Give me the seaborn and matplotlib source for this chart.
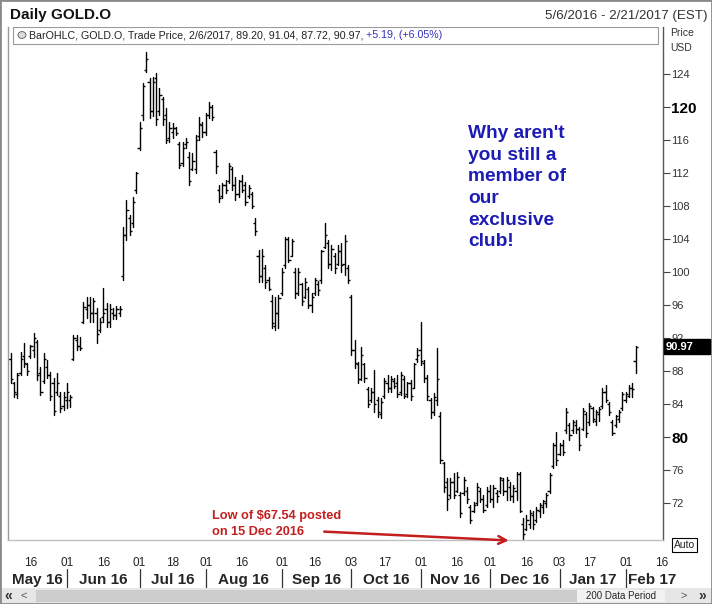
import pandas as pd
import seaborn as sns
import matplotlib.pyplot as plt
from matplotlib import font_manager
from matplotlib.patches import Rectangle
from matplotlib.transforms import blended_transform_factory

# daily bars, GOLD.O, 6 May 2016 .. 6 Feb 2017 (trading-day index 0..189)
highs = [90.2, 86.7, 87.8, 90.3, 91.4, 89.0, 91.2, 92.6, 91.8, 88.5,
         90.2, 89.3, 87.9, 87.1, 87.8, 85.5, 85.5, 86.5, 85.1, 92.4,
         92.4, 92.1, 96.4, 97.0, 97.0, 96.9, 95.6, 94.4, 98.1, 96.2,
         96.1, 95.7, 95.9, 95.9, 105.5, 108.7, 106.9, 109.1, 112.1, 118.2,
         122.9, 126.7, 123.5, 123.6, 124.1, 122.3, 121.2, 119.9, 118.2, 118.1,
         117.6, 115.8, 115.8, 116.2, 114.5, 114.4, 116.6, 118.8, 118.2, 119.3,
         120.6, 120.2, 114.8, 110.5, 110.8, 111.2, 113.2, 112.7, 111.5, 111.2,
         111.8, 110.9, 110.5, 109.7, 106.5, 102.7, 102.8, 100.8, 99.4, 97.2,
         97.0, 97.2, 100.5, 104.2, 104.2, 104.0, 100.5, 100.5, 98.7, 99.3,
         98.2, 97.5, 99.3, 98.9, 102.7, 105.9, 103.9, 103.3, 102.3, 103.3,
         103.5, 104.5, 100.8, 97.2, 91.8, 89.1, 90.9, 89.0, 86.1, 85.9,
         88.1, 84.8, 84.7, 87.2, 87.5, 87.4, 87.2, 87.5, 87.9, 87.4,
         86.7, 86.9, 89.0, 90.8, 93.9, 89.3, 87.5, 84.7, 85.3, 90.8,
         83.0, 77.0, 75.0, 75.0, 75.6, 75.8, 73.3, 75.2, 73.9, 71.8,
         72.1, 74.4, 73.8, 73.0, 73.9, 74.2, 74.2, 73.6, 75.2, 75.0,
         75.2, 74.5, 74.2, 75.8, 75.8, 70.2, 70.5, 71.2, 71.0, 71.5,
         72.0, 72.4, 73.2, 75.6, 79.3, 80.6, 79.3, 79.6, 83.5, 81.7,
         82.1, 82.1, 81.2, 83.5, 83.0, 84.1, 83.6, 83.3, 83.6, 85.9,
         86.3, 84.2, 82.1, 82.7, 83.3, 85.5, 85.5, 86.3, 86.5, 91.04]
lows = [86.5, 84.8, 84.7, 87.5, 88.5, 87.5, 89.6, 89.7, 86.9, 85.1,
        86.5, 87.1, 84.5, 82.7, 85.1, 83.0, 83.3, 83.5, 83.6, 89.3,
        90.5, 90.5, 93.8, 94.4, 94.0, 93.9, 91.4, 92.7, 93.9, 93.3,
        93.3, 94.3, 94.3, 94.7, 99.0, 103.9, 104.5, 105.5, 109.6, 114.8,
        118.4, 124.2, 118.7, 118.9, 117.8, 119.0, 117.8, 115.6, 115.8, 116.2,
        116.6, 112.6, 112.8, 115.0, 110.5, 112.4, 112.0, 116.0, 116.4, 116.6,
        118.7, 118.4, 112.0, 108.5, 109.0, 109.6, 110.8, 109.9, 108.7, 109.1,
        109.7, 108.1, 109.0, 107.8, 104.5, 98.8, 98.8, 98.1, 97.8, 93.2,
        93.0, 93.2, 97.2, 100.5, 101.2, 101.9, 96.8, 97.2, 96.0, 96.8,
        95.6, 95.2, 97.2, 97.2, 98.7, 102.9, 100.5, 100.2, 99.9, 100.8,
        100.0, 99.6, 98.7, 89.9, 88.4, 86.5, 86.9, 86.7, 83.6, 84.2,
        83.0, 82.4, 82.3, 84.7, 85.5, 85.5, 85.9, 84.8, 85.1, 84.7,
        84.8, 84.5, 85.9, 89.1, 88.7, 86.7, 84.5, 82.3, 82.7, 83.9,
        76.8, 73.3, 71.2, 72.6, 72.6, 73.3, 70.3, 73.0, 72.0, 69.6,
        70.9, 71.8, 72.1, 70.9, 71.5, 72.1, 71.5, 72.1, 73.2, 73.0,
        72.4, 72.4, 72.1, 72.4, 70.9, 67.54, 68.7, 69.0, 68.8, 69.7,
        70.3, 70.8, 71.5, 73.2, 76.2, 76.6, 77.8, 77.8, 80.5, 79.6,
        80.5, 80.5, 78.4, 80.8, 80.0, 81.5, 81.8, 81.5, 82.0, 83.5,
        84.2, 82.7, 80.2, 81.2, 81.8, 83.3, 84.2, 84.8, 84.8, 87.72]
opens = [89.5, 86.5, 85.2, 87.8, 89.8, 88.8, 89.8, 90.5, 91.5, 87.8,
         86.8, 88.5, 87.5, 86.5, 85.5, 85.0, 83.8, 84.5, 84.5, 89.5,
         91.8, 91.0, 94.0, 95.5, 96.0, 95.0, 95.0, 93.0, 94.5, 95.5,
         94.0, 95.0, 94.8, 95.0, 99.5, 104.5, 106.5, 106.0, 110.0, 115.0,
         119.0, 124.5, 123.0, 119.5, 123.5, 119.5, 121.0, 119.0, 116.2, 117.0,
         117.4, 115.5, 113.2, 115.5, 114.0, 112.5, 112.5, 116.5, 117.8, 117.0,
         119.0, 120.0, 114.5, 110.0, 109.2, 110.5, 111.0, 112.5, 110.5, 109.5,
         111.0, 110.5, 109.2, 109.5, 106.0, 102.0, 99.5, 100.5, 99.0, 96.5,
         93.5, 95.0, 97.5, 100.8, 104.0, 102.0, 100.0, 97.5, 98.5, 97.0,
         98.0, 96.0, 97.5, 98.5, 99.0, 103.0, 103.5, 101.0, 102.0, 101.0,
         102.5, 101.0, 100.5, 97.0, 90.5, 88.8, 87.0, 88.8, 85.8, 84.5,
         85.5, 84.5, 82.8, 85.0, 86.5, 86.0, 86.8, 86.5, 85.5, 87.0,
         85.2, 86.5, 86.0, 89.5, 90.5, 89.0, 87.2, 84.5, 83.0, 84.5,
         82.5, 76.8, 74.5, 73.0, 74.5, 73.5, 73.0, 73.2, 73.5, 71.5,
         71.0, 72.0, 73.5, 72.5, 71.8, 73.5, 72.5, 73.2, 73.5, 74.8,
         73.5, 74.0, 72.8, 73.5, 75.5, 69.5, 68.8, 69.5, 70.5, 70.0,
         71.0, 71.5, 72.0, 73.5, 76.5, 79.0, 78.0, 79.0, 80.8, 81.5,
         80.8, 81.5, 81.0, 81.0, 82.8, 81.8, 83.5, 82.0, 82.8, 83.8,
         85.5, 84.0, 81.8, 81.5, 82.2, 83.5, 84.5, 85.0, 86.0, 89.20]
closes = [87.0, 85.5, 87.5, 89.5, 89.0, 88.0, 91.0, 92.0, 87.5, 85.5,
          89.5, 87.5, 85.0, 83.2, 86.5, 83.5, 84.8, 85.5, 84.8, 92.0,
          91.0, 90.8, 95.8, 96.0, 95.0, 96.5, 92.5, 94.0, 95.0, 94.0,
          95.5, 94.8, 95.5, 95.5, 104.5, 107.5, 105.0, 108.5, 112.0, 117.5,
          122.5, 125.8, 119.5, 123.0, 118.5, 121.5, 118.5, 116.0, 117.5, 117.5,
          116.8, 113.0, 115.0, 115.8, 111.0, 113.5, 116.0, 118.0, 117.0, 119.0,
          120.0, 118.8, 112.8, 109.0, 110.5, 110.0, 112.8, 110.5, 109.5, 111.0,
          110.0, 108.5, 110.2, 108.0, 105.0, 99.5, 102.0, 98.8, 98.0, 93.8,
          95.0, 96.8, 100.0, 104.0, 101.5, 103.8, 97.5, 100.0, 96.5, 98.8,
          96.0, 97.0, 99.0, 97.8, 102.5, 104.5, 101.0, 102.8, 100.5, 102.5,
          100.8, 103.8, 99.0, 90.5, 89.0, 87.0, 90.0, 87.2, 84.0, 85.5,
          84.0, 83.0, 84.2, 86.8, 86.0, 87.0, 86.2, 85.2, 87.5, 85.0,
          86.5, 85.0, 88.8, 90.0, 89.2, 87.2, 85.0, 83.0, 84.8, 87.0,
          77.2, 74.0, 72.5, 74.5, 73.0, 75.2, 70.8, 74.8, 72.5, 70.0,
          71.8, 74.0, 72.5, 71.2, 73.5, 72.5, 73.8, 72.8, 75.0, 73.5,
          74.8, 72.8, 73.8, 75.5, 71.0, 68.2, 70.0, 70.8, 69.5, 71.2,
          71.8, 72.2, 73.0, 75.4, 79.0, 77.2, 79.0, 78.2, 83.0, 80.2,
          81.8, 81.0, 79.0, 83.2, 80.5, 83.8, 82.2, 83.0, 83.4, 85.5,
          84.5, 83.0, 80.5, 82.5, 83.0, 85.2, 85.2, 86.0, 85.8, 90.97]

day_ticks = [6, 17, 28, 39, 49, 59, 70, 82, 92, 103, 113, 124, 135, 145, 156, 166, 175, 186, 197]
day_labels = ["16", "01", "16", "01", "18", "01", "16", "01", "16", "03",
              "17", "01", "16", "01", "16", "03", "17", "01", "16"]
month_starts = [17, 39, 59, 82, 103, 124, 145, 166, 186]
month_names = ["May 16", "Jun 16", "Jul 16", "Aug 16", "Sep 16", "Oct 16",
               "Nov 16", "Dec 16", "Jan 17", "Feb 17"]
price_ticks = [72, 76, 80, 84, 88, 92, 96, 100, 104, 108, 112, 116, 120, 124]
bold_ticks = [80, 120]
last_price = 90.97
low_day = 155

sns.set_style("white")
names = {f.name for f in font_manager.fontManager.ttflist}
narrow = "Liberation Sans Narrow" if "Liberation Sans Narrow" in names else "Liberation Sans"
plt.rcParams["font.family"] = ["Liberation Sans", "DejaVu Sans"]

W, H = 712, 604
fig = plt.figure(figsize=(W / 100, H / 100), dpi=100)
fig.patch.set_facecolor("white")
ax = fig.add_axes([8 / W, 64 / H, 655 / W, 513 / H])

# high-low bars, one unit per day
idx = list(range(len(highs)))
bars = pd.DataFrame({"day": idx + idx, "price": lows + highs})
sns.lineplot(data=bars, x="day", y="price", units="day", estimator=None,
             color="black", lw=1.0, legend=False, ax=ax)
ax.hlines(opens, [i - 0.65 for i in idx], idx, color="black", lw=1.0)
ax.hlines(closes, idx, [i + 0.65 for i in idx], color="black", lw=1.0)

ax.set_xlim(-0.8, 197.3)
ax.set_ylim(67.52, 129.7)
ax.set_xlabel("")
ax.set_ylabel("")

ax.yaxis.tick_right()
ax.set_yticks(price_ticks)
ax.set_yticklabels([str(p) for p in price_ticks])
ax.tick_params(axis="y", direction="out", length=5, width=0.8, color="#444",
               labelsize=8, labelcolor="#333", pad=1)
for lab in ax.get_yticklabels():
    if int(lab.get_text()) in bold_ticks:
        lab.set_fontweight("bold")
        lab.set_fontsize(11)
        lab.set_color("black")

ax.set_xticks(day_ticks)
ax.set_xticklabels(day_labels, family=narrow)
ax.tick_params(axis="x", direction="out", length=3, width=0.7, color="#777",
               labelsize=8.5, labelcolor="#222", pad=9)

ax.spines["top"].set_visible(False)
ax.spines["left"].set_color("#9a9a9a")
ax.spines["bottom"].set_color("#c0c0c0")
ax.spines["right"].set_color("#555555")
for s in ax.spines.values():
    s.set_linewidth(1)

# month labels and separators under the day ticks
tx = blended_transform_factory(ax.transData, fig.transFigure)
bounds = [-0.8] + month_starts
for k, name in enumerate(month_names):
    if k < len(month_starts):
        mid = (bounds[k] + month_starts[k]) / 2
        ax.text(mid, 1 - 580 / H, name, transform=tx, ha="center", va="center",
                fontsize=11, fontweight="bold", family=narrow, clip_on=False)
    else:
        ax.text(bounds[k] + 0.6, 1 - 580 / H, name, transform=tx, ha="left",
                va="center", fontsize=11, fontweight="bold", family=narrow, clip_on=False)
for m in month_starts:
    ax.plot([m, m], [1 - 569 / H, 1 - 591 / H], transform=tx, color="#333",
            lw=0.9, clip_on=False)

# header box inside the chart
ax.add_patch(Rectangle((5 / 655, 1 - 17 / 513), 645 / 655, 17 / 513, transform=ax.transAxes,
                       facecolor="white", edgecolor="#9a9a9a", lw=0.8, zorder=5))
fig.patches.append(plt.Circle((22 / W, 1 - 35 / H), 4 / W, transform=fig.transFigure,
                              facecolor="#dcdcdc", edgecolor="#555", lw=0.6))
t1 = fig.text(29 / W, 1 - 35.5 / H, "BarOHLC, GOLD.O, Trade Price, 2/6/2017, 89.20, 91.04, 87.72, 90.97, ",
              fontsize=7.7, color="#222", va="center", ha="left", zorder=6)
fig.canvas.draw()
bb = t1.get_window_extent()
fig.text(bb.x1 / W, 1 - 35.5 / H, "+5.19, (+6.05%)", fontsize=7.7, color="#3030c0",
         va="center", ha="left", zorder=6)

# titles and right-side captions
fig.text(10 / W, 1 - 15 / H, "Daily GOLD.O", fontsize=11, fontweight="bold", color="#111",
         va="center", ha="left")
fig.text(708 / W, 1 - 16 / H, "5/6/2016 - 2/21/2017 (EST)", fontsize=9.6, family=narrow,
         color="#333", va="center", ha="right")
fig.text(670 / W, 1 - 33 / H, "Price", fontsize=7.5, color="#333", va="center")
fig.text(670 / W, 1 - 48 / H, "USD", fontsize=7.5, color="#333", va="center")

# last price flag (covers most of the 92 label, as in the source chart)
fy = blended_transform_factory(fig.transFigure, ax.transData)
fig.patches.append(Rectangle((664 / W, last_price - 0.9), 46 / W, 1.8, transform=fy,
                             facecolor="black", edgecolor="black", zorder=10))
fig.text(666 / W, last_price, f"{last_price:.2f}", transform=fy, color="white",
         fontweight="bold", fontsize=8, va="center", ha="left", zorder=11)

fig.text(674 / W, 1 - 545 / H, "Auto", fontsize=7.5, va="center", ha="left",
         bbox=dict(facecolor="white", edgecolor="black", lw=0.8, pad=1.2))

# promo text and low annotation
fig.text(468 / W, 1 - 125 / H, "Why aren't\nyou still a\nmember of\nour\nexclusive\nclub!",
         fontsize=13.8, fontweight="bold", color="#1c1cb4", va="top", ha="left", linespacing=1.36)
fig.text(212 / W, 1 - 510 / H, "Low of \\$67.54 posted\non 15 Dec 2016", fontsize=9.2,
         fontweight="bold", color="#c41e1e", va="top", ha="left", linespacing=1.4)
ax.annotate("", xy=(low_day - 3.5, 67.45), xytext=(94, 68.55),
            arrowprops=dict(arrowstyle="->", color="#c41e1e", lw=1.8, mutation_scale=14),
            annotation_clip=False)

# scroll bar strip at the bottom
fig.patches.append(Rectangle((0, 0), 1, 16 / H, transform=fig.transFigure,
                             facecolor="#e6e6e6", edgecolor="none"))
fig.patches.append(Rectangle((36 / W, 2 / H), 541 / W, 12 / H, transform=fig.transFigure,
                             facecolor="#cdcdcd", edgecolor="none"))
fig.patches.append(Rectangle((577 / W, 2 / H), 88 / W, 12 / H, transform=fig.transFigure,
                             facecolor="#f2f2f2", edgecolor="none"))
fig.text(621 / W, 8 / H, "200 Data Period", fontsize=7, family=narrow, va="center", ha="center")
fig.text(8 / W, 8 / H, "\u00ab", fontsize=10, fontweight="bold", va="center", ha="center", color="#333")
fig.text(24 / W, 8 / H, "<", fontsize=8, va="center", ha="center", color="#555")
fig.text(684 / W, 8 / H, ">", fontsize=8, va="center", ha="center", color="#555")
fig.text(702 / W, 8 / H, "\u00bb", fontsize=10, fontweight="bold", va="center", ha="center", color="#333")

# outer frame
fig.patches.append(Rectangle((0, 0), 1, 1, transform=fig.transFigure, facecolor="none",
                             edgecolor="#8a8a8a", lw=2))

fig.savefig("out.png", dpi=100)
